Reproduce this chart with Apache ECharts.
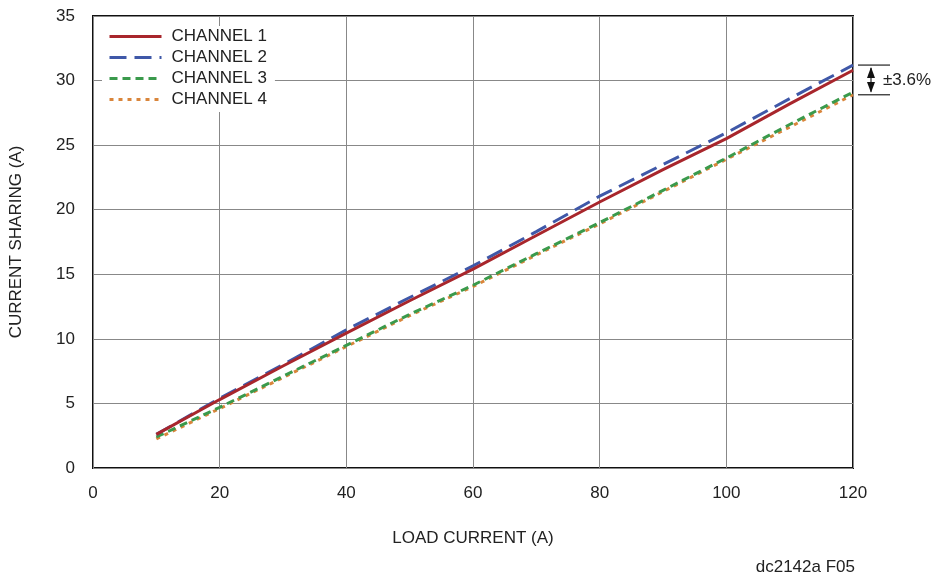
<!DOCTYPE html>
<html>
<head>
<meta charset="utf-8">
<script src="https://cdn.jsdelivr.net/npm/echarts@6/dist/echarts.min.js"></script>
<style>html,body{margin:0;padding:0;background:#fff}#c{width:935px;height:577px}</style>
</head>
<body>
<div id="c"></div>
<script>
const loadCurrent = [10, 20, 30, 40, 50, 60, 70, 80, 90, 100, 110, 120];
const channel1 = [2.6, 5.3, 7.9, 10.45, 12.95, 15.4, 18.0, 20.6, 23.1, 25.5, 28.2, 30.8];
const channel2 = [2.6, 5.4, 8.0, 10.7, 13.2, 15.65, 18.3, 21.05, 23.5, 25.95, 28.6, 31.2];
const channel3 = [2.4, 4.7, 7.1, 9.5, 11.9, 14.15, 16.6, 19.0, 21.5, 24.0, 26.6, 29.1];
const channel4 = [2.25, 4.6, 7.0, 9.4, 11.8, 14.05, 16.5, 18.9, 21.4, 23.9, 26.4, 28.9];
const seriesNames = ['CHANNEL 1', 'CHANNEL 2', 'CHANNEL 3', 'CHANNEL 4'];
const spreadLabel = '±3.6%';
const spreadTop = 31.2, spreadBottom = 28.9;

const FONT = '"Liberation Sans Narrow", "Liberation Sans", Arial, sans-serif';
const FS = 17;
const chart = echarts.init(document.getElementById('c'));
const pair = arr => arr.map((v, i) => [loadCurrent[i], v]);
const styles = [
  {color: '#a8262c', type: 'solid'},
  {color: '#3f58a8', type: [17, 8]},
  {color: '#3a9a4c', type: [8, 5]},
  {color: '#d9853b', type: [4, 5]}
];
const data = [channel1, channel2, channel3, channel4];

chart.setOption({
  animation: false,
  backgroundColor: '#fff',
  grid: {left: 93, right: 82, top: 16, bottom: 109, show: true, borderColor: '#111', borderWidth: 2, backgroundColor: 'transparent'},
  legend: {
    left: 102, top: 26, orient: 'vertical', itemWidth: 52, itemHeight: 12, itemGap: 4,
    backgroundColor: '#fff', padding: [2, 8, 4, 6],
    itemStyle: {opacity: 0},
    lineStyle: {width: 3},
    textStyle: {fontFamily: FONT, fontSize: FS, color: '#222', padding: [0, 0, 0, 5]},
    data: seriesNames
  },
  xAxis: {
    type: 'value', min: 0, max: 120, interval: 20,
    name: 'LOAD CURRENT (A)', nameLocation: 'middle', nameGap: 62,
    nameTextStyle: {fontFamily: FONT, fontSize: FS, color: '#222'},
    axisLine: {show: false}, axisTick: {show: false},
    axisLabel: {fontFamily: FONT, fontSize: FS, color: '#222', margin: 17},
    splitLine: {show: true, lineStyle: {color: '#888', width: 1}}
  },
  yAxis: {
    type: 'value', min: 0, max: 35, interval: 5,
    name: 'CURRENT SHARING (A)', nameLocation: 'middle', nameGap: 68, nameRotate: 90,
    nameTextStyle: {fontFamily: FONT, fontSize: FS, color: '#222'},
    axisLine: {show: false}, axisTick: {show: false},
    axisLabel: {fontFamily: FONT, fontSize: FS, color: '#222', margin: 18},
    splitLine: {show: true, lineStyle: {color: '#888', width: 1}}
  },
  series: data.map((d, i) => ({
    name: seriesNames[i], type: 'line', data: pair(d), showSymbol: false, symbol: 'none',
    z: 4 - i,
    lineStyle: {color: styles[i].color, width: 3, type: styles[i].type},
    itemStyle: {color: styles[i].color}
  }))
});

function drawAnnot() {
  const yT = chart.convertToPixel({gridIndex: 0}, [120, spreadTop])[1];
  const yB = chart.convertToPixel({gridIndex: 0}, [120, spreadBottom])[1];
  const xR = chart.convertToPixel({gridIndex: 0}, [120, 0])[0];
  const x0 = xR + 5, x1 = xR + 37, xa = xR + 18;
  const yM = (yT + yB) / 2;
  chart.setOption({
    graphic: [
      {type: 'line', shape: {x1: x0, y1: yT, x2: x1, y2: yT}, style: {stroke: '#222', lineWidth: 1.2}},
      {type: 'line', shape: {x1: x0, y1: yB, x2: x1, y2: yB}, style: {stroke: '#222', lineWidth: 1.2}},
      {type: 'line', shape: {x1: xa, y1: yT + 3, x2: xa, y2: yB - 3}, style: {stroke: '#222', lineWidth: 1.2}},
      {type: 'polygon', shape: {points: [[xa, yT + 2], [xa - 4, yM - 2], [xa + 4, yM - 2]]}, style: {fill: '#111'}},
      {type: 'polygon', shape: {points: [[xa, yB - 2], [xa - 4, yM + 2], [xa + 4, yM + 2]]}, style: {fill: '#111'}},
      {type: 'text', x: xR + 30, y: yM, style: {text: spreadLabel, fontFamily: FONT, fontSize: FS, fill: '#222', verticalAlign: 'middle'}},
      {type: 'text', right: 80, top: 559, style: {text: 'dc2142a F05', fontFamily: FONT, fontSize: FS, fill: '#222'}}
    ]
  });
}
drawAnnot();
</script>
</body>
</html>
